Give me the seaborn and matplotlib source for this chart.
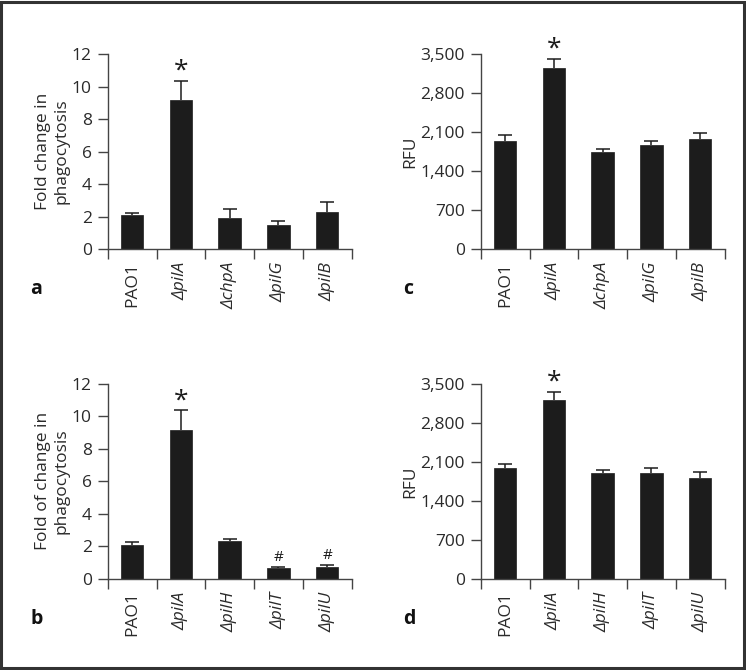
import matplotlib
matplotlib.use("Agg")
import matplotlib.pyplot as plt
import seaborn as sns
import numpy as np
import pandas as pd
from matplotlib.patches import Rectangle
from matplotlib.ticker import FixedLocator, FuncFormatter

sns.set_style("white")
plt.rcParams['font.family'] = ['Open Sans', 'DejaVu Sans']

# ---- data ----
strains_top = ["PAO1", "ΔpilA", "ΔchpA", "ΔpilG", "ΔpilB"]
strains_bot = ["PAO1", "ΔpilA", "ΔpilH", "ΔpilT", "ΔpilU"]

fold_a = [2.08, 9.18, 1.92, 1.47, 2.32]
fold_a_err = [0.17, 1.17, 0.55, 0.25, 0.57]

rfu_c = [1935, 3250, 1738, 1869, 1977]
rfu_c_err = [108, 155, 60, 72, 100]

fold_b = [2.07, 9.17, 2.36, 0.66, 0.72]
fold_b_err = [0.18, 1.19, 0.12, 0.06, 0.12]

rfu_d = [1983, 3217, 1905, 1905, 1810]
rfu_d_err = [84, 143, 54, 78, 101]

star_a = ["", "*", "", "", ""]
star_b = ["", "*", "", "#", "#"]

fig = plt.figure(figsize=(7.46, 6.70), dpi=100)

W = 0.327
H = 0.2915
panels = [
    ("a", [0.1444, 0.6279, W, H], strains_top, fold_a, fold_a_err, star_a,
     "Fold change in\nphagocytosis", 12, [0, 2, 4, 6, 8, 10, 12]),
    ("c", [0.6444, 0.6279, W, H], strains_top, rfu_c, rfu_c_err, star_a,
     "RFU", 3500, [0, 700, 1400, 2100, 2800, 3500]),
    ("b", [0.1444, 0.1358, W, H], strains_bot, fold_b, fold_b_err, star_b,
     "Fold of change in\nphagocytosis", 12, [0, 2, 4, 6, 8, 10, 12]),
    ("d", [0.6444, 0.1358, W, H], strains_bot, rfu_d, rfu_d_err, star_a,
     "RFU", 3500, [0, 700, 1400, 2100, 2800, 3500]),
]

dark = "#1c1c1c"
axcol = "#444444"
txtcol = "#2a2a2a"

for letter, pos, cats, vals, errs, marks, ylabel, ymax, yticks in panels:
    ax = fig.add_axes(pos)
    df = pd.DataFrame({"strain": cats, "value": vals})
    sns.barplot(data=df, x="strain", y="value", color=dark, saturation=1,
                width=0.46, errorbar=None, ax=ax, edgecolor=dark, linewidth=0.5)
    x = np.arange(len(cats))
    tops = np.array(vals) + np.array(errs)
    ax.vlines(x, vals, tops, color=dark, linewidth=1.1)
    ax.plot(x, tops, linestyle="none", marker="_", markersize=10,
            markeredgewidth=1.1, color=dark)
    ax.set_xlim(-0.5, len(cats) - 0.5)
    ax.set_ylim(0, ymax)
    ax.set_yticks(yticks)
    if ymax > 100:
        ax.yaxis.set_major_formatter(FuncFormatter(lambda v, p: f"{int(v):,}"))
    ax.set_xticks(x)
    ax.set_xticklabels(cats, rotation=90)
    for lab in ax.get_xticklabels():
        if lab.get_text() != "PAO1":
            lab.set_fontstyle("italic")
    ax.xaxis.set_minor_locator(FixedLocator(np.arange(-0.5, len(cats), 1.0)))
    ax.tick_params(axis="x", which="major", length=0, pad=9, labelsize=12.5,
                   colors=txtcol)
    ax.tick_params(axis="x", which="minor", length=7, width=1, color=axcol,
                   direction="out", bottom=True)
    ax.tick_params(axis="y", which="major", length=7, width=1, color=axcol,
                   direction="out", left=True, labelsize=12.5, pad=4.5,
                   labelcolor=txtcol)
    for s in ["top", "right"]:
        ax.spines[s].set_visible(False)
    for s in ["left", "bottom"]:
        ax.spines[s].set_color(axcol)
        ax.spines[s].set_linewidth(1)
    ax.set_xlabel("")
    ax.set_ylabel(ylabel, fontsize=12.5, color=txtcol, labelpad=1.5,
                  linespacing=1.2)
    for xi, t, m in zip(x, tops, marks):
        if m == "*":
            ax.annotate(m, (xi, t), xytext=(0, -2), textcoords="offset points",
                        ha="center", va="bottom", fontsize=19, color=dark,
                        annotation_clip=False)
        elif m == "#":
            ax.annotate(m, (xi, t), xytext=(0, 2), textcoords="offset points",
                        ha="center", va="bottom", fontsize=11, color=dark,
                        annotation_clip=False)
    fig.text(pos[0] - 0.104, pos[1] - 0.059, letter, fontsize=14,
             fontweight="bold", ha="left", va="center", color="#111111")

fig.patches.append(Rectangle((0.0015, 0.0025), 0.996, 0.995,
                             transform=fig.transFigure, fill=False,
                             edgecolor="#333333", linewidth=2.2))

fig.savefig("out.png", dpi=100)
